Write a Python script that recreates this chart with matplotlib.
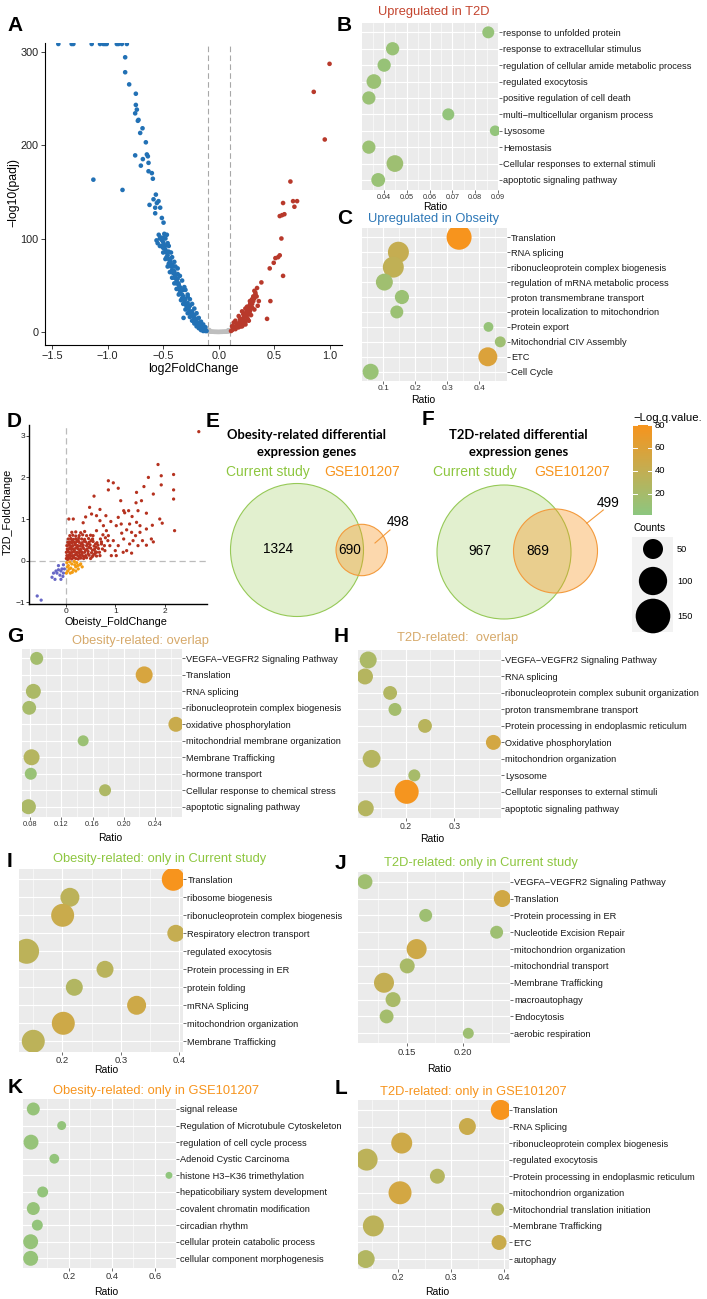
import numpy as np
import matplotlib
matplotlib.use("Agg")
import matplotlib.pyplot as plt
from matplotlib.colors import LinearSegmentedColormap, Normalize
from matplotlib.patches import Circle, Rectangle

plt.rcParams['font.family'] = ['Liberation Sans', 'DejaVu Sans']

# ======================= DATA =======================
# ---- Panel A: volcano (log2FoldChange, -log10(padj)) ----
PADJ_CAP = 308.25
volcano_cap_x = [-1.443, -1.323, -1.308, -1.143, -1.068, -1.038, -1.023, -1.008,
                 -0.917, -0.902, -0.872, -0.827]
volcano_down = [(-0.842, 294), (-0.842, 278), (-0.806, 265), (-0.746, 255), (-0.746, 243),
                (-0.737, 238), (-0.752, 234), (-0.722, 227), (-0.728, 226), (-0.707, 213),
                (-0.686, 218), (-0.656, 203), (-0.647, 190), (-0.638, 188), (-0.632, 181),
                (-0.752, 189), (-0.683, 185), (-0.701, 178), (-0.632, 172), (-0.602, 170),
                (-0.593, 164), (-1.128, 163), (-0.866, 152), (-0.566, 147), (-0.587, 142),
                (-0.557, 138), (-0.542, 140), (-0.623, 136), (-0.572, 133), (-0.527, 133),
                (-0.572, 127), (-0.512, 122), (-0.497, 117), (-0.467, 104), (-0.497, 101),
                (-0.482, 92), (-0.452, 86), (-0.437, 77), (-0.407, 70), (-0.392, 61),
                (-0.362, 52), (-0.332, 45), (-0.317, 35), (-0.287, 27), (-0.242, 20),
                (-0.212, 13), (-0.152, 6), (-0.317, 15),
                (-0.54, 104), (-0.53, 100), (-0.52, 101), (-0.51, 98), (-0.50, 96), (-0.50, 90),
                (-0.49, 93), (-0.48, 88), (-0.47, 85), (-0.47, 80), (-0.46, 82), (-0.45, 78),
                (-0.45, 73), (-0.44, 75), (-0.43, 70), (-0.42, 72), (-0.42, 66), (-0.41, 63),
                (-0.40, 65), (-0.40, 58), (-0.39, 60), (-0.38, 55), (-0.38, 52), (-0.37, 57),
                (-0.36, 50), (-0.36, 46), (-0.35, 48), (-0.35, 42), (-0.34, 44), (-0.33, 40),
                (-0.33, 36), (-0.32, 38), (-0.31, 34), (-0.30, 30), (-0.30, 35), (-0.29, 28),
                (-0.28, 31), (-0.28, 25), (-0.27, 26), (-0.26, 22), (-0.26, 28), (-0.25, 20),
                (-0.24, 18), (-0.24, 22), (-0.23, 16), (-0.22, 14), (-0.22, 18), (-0.21, 12),
                (-0.20, 10), (-0.20, 14), (-0.19, 8), (-0.18, 7), (-0.18, 10), (-0.17, 5),
                (-0.16, 4), (-0.16, 7), (-0.15, 3), (-0.14, 2), (-0.13, 2), (-0.12, 1),
                (-0.11, 1), (-0.43, 85), (-0.39, 70), (-0.37, 62), (-0.32, 45), (-0.31, 48),
                (-0.28, 38), (-0.53, 92), (-0.49, 105), (-0.46, 95),
                (-0.56, 98), (-0.55, 95), (-0.52, 92), (-0.50, 85), (-0.48, 78), (-0.46, 70),
                (-0.44, 64), (-0.42, 58), (-0.40, 52), (-0.38, 46), (-0.36, 40), (-0.34, 34),
                (-0.32, 30), (-0.30, 24), (-0.28, 20), (-0.26, 16), (-0.24, 12), (-0.22, 9),
                (-0.20, 6), (-0.18, 4), (-0.16, 2), (-0.14, 1), (-0.48, 100), (-0.45, 92),
                (-0.42, 80), (-0.40, 75), (-0.37, 68), (-0.35, 60), (-0.33, 55), (-0.30, 45),
                (-0.28, 40), (-0.26, 35), (-0.24, 30), (-0.22, 25), (-0.20, 20), (-0.18, 15),
                (-0.16, 11), (-0.14, 8), (-0.12, 5)]
volcano_up = [(0.996, 287), (0.854, 257), (0.953, 206), (0.644, 161), (0.578, 138),
              (0.668, 140), (0.704, 140), (0.680, 134), (0.548, 124), (0.569, 125),
              (0.590, 126), (0.563, 100), (0.548, 82), (0.533, 80), (0.509, 79),
              (0.494, 74), (0.458, 68), (0.578, 60), (0.383, 53), (0.344, 47),
              (0.329, 42), (0.314, 36), (0.299, 35), (0.464, 33), (0.284, 31),
              (0.254, 27), (0.239, 25), (0.209, 22), (0.179, 17), (0.434, 14),
              (0.149, 12), (0.134, 10), (0.119, 6),
              (0.11, 1), (0.12, 2), (0.13, 3), (0.14, 4), (0.15, 5), (0.16, 6), (0.17, 8),
              (0.17, 5), (0.18, 9), (0.19, 7), (0.19, 11), (0.20, 10), (0.21, 13), (0.21, 9),
              (0.22, 15), (0.23, 12), (0.23, 18), (0.24, 20), (0.25, 16), (0.25, 22),
              (0.26, 24), (0.27, 19), (0.27, 27), (0.28, 22), (0.28, 29), (0.29, 25),
              (0.30, 30), (0.31, 33), (0.31, 38), (0.32, 36), (0.33, 40), (0.30, 26),
              (0.26, 14), (0.24, 11), (0.22, 8), (0.20, 6), (0.32, 44), (0.34, 38), (0.36, 33),
              (0.15, 3), (0.18, 5), (0.21, 6), (0.24, 8), (0.27, 12), (0.29, 18), (0.32, 24),
              (0.35, 28), (0.13, 6), (0.16, 9), (0.19, 14), (0.22, 19), (0.25, 25), (0.28, 33)]
volcano_ns = [(-0.10, 1.0), (-0.09, 0.6), (-0.08, 0.5), (-0.07, 0.3), (-0.06, 0.3), (-0.05, 0.2),
              (-0.04, 0.1), (-0.03, 0.1), (-0.02, 0.05), (-0.01, 0.0), (0.0, 0.0), (0.01, 0.05),
              (0.02, 0.1), (0.03, 0.1), (0.04, 0.2), (0.05, 0.2), (0.06, 0.3), (0.07, 0.4),
              (0.08, 0.5), (0.09, 0.7), (0.10, 1.0), (-0.095, 1.5), (0.095, 1.4), (-0.085, 2.0),
              (0.085, 1.8)]
volcano_xticks = [-1.5, -1.0, -0.5, 0.0, 0.5, 1.0]
volcano_yticks = [0, 100, 200, 300]
fc_cutoff = 0.1

# ---- Panel D: Obesity vs T2D fold change ----
scatter_both_up = [(2.69, 3.10), (1.865, 2.31), (1.93, 2.04), (2.18, 2.07), (1.67, 2.00), (2.18, 1.70),
                   (2.18, 1.48), (2.20, 0.72), (1.93, 1.82), (1.77, 1.60), (1.58, 1.78), (1.43, 1.64),
                   (1.42, 1.39), (1.53, 1.44), (0.86, 1.70), (0.57, 1.55), (0.96, 1.87), (1.06, 1.74),
                   (0.86, 1.92), (1.11, 1.44), (1.17, 1.20), (1.19, 1.15), (1.27, 1.20), (1.34, 1.06),
                   (1.46, 1.20), (1.63, 1.14), (1.90, 1.00), (1.95, 0.90), (1.75, 0.85), (1.63, 0.76),
                   (1.50, 0.68), (1.73, 0.52), (1.77, 0.45), (1.63, 0.37), (1.55, 0.48), (1.41, 0.60),
                   (1.33, 0.68), (1.23, 0.74), (1.13, 0.66), (1.00, 0.24), (1.16, 0.20), (1.23, 0.24),
                   (1.33, 0.18), (1.06, 0.36), (0.96, 0.48), (0.86, 0.60), (0.76, 0.84), (0.69, 0.96),
                   (0.62, 1.08), (0.52, 1.12), (0.40, 1.05), (0.35, 0.91), (0.48, 1.28), (0.15, 1.00),
                   (0.06, 1.00), (0.69, 1.23), (0.81, 1.08), (1.06, 1.04), (0.91, 0.94), (1.02, 0.84),
                   (1.12, 0.88), (1.29, 0.88), (1.43, 0.92), (1.50, 0.84), (1.36, 0.48), (1.46, 0.36),
                   (1.17, 0.52), (1.29, 0.40), (0.89, 0.36), (0.79, 0.24), (0.92, 0.12), (1.02, 0.12),
                   (0.69, 0.12), (0.62, 0.20), (0.72, 0.40), (0.82, 0.72), (0.62, 0.72), (0.55, 0.60),
                   (0.01, 0.05), (0.04, 0.03), (0.08, 0.06), (0.12, 0.04), (0.16, 0.07), (0.20, 0.05),
                   (0.25, 0.04), (0.30, 0.06), (0.36, 0.05), (0.42, 0.07), (0.50, 0.05),
                   (0.02, 0.12), (0.06, 0.13), (0.10, 0.11), (0.14, 0.12), (0.19, 0.14), (0.24, 0.12),
                   (0.29, 0.13), (0.34, 0.11), (0.40, 0.12), (0.47, 0.13), (0.55, 0.12), (0.62, 0.11),
                   (0.01, 0.20), (0.05, 0.21), (0.09, 0.19), (0.13, 0.20), (0.17, 0.22), (0.22, 0.20),
                   (0.27, 0.19), (0.32, 0.21), (0.38, 0.20), (0.45, 0.22), (0.52, 0.19), (0.60, 0.21),
                   (0.68, 0.20), (0.03, 0.28), (0.07, 0.29), (0.11, 0.27), (0.15, 0.28), (0.20, 0.30),
                   (0.25, 0.28), (0.30, 0.27), (0.36, 0.29), (0.43, 0.28), (0.50, 0.30), (0.58, 0.27),
                   (0.66, 0.29), (0.74, 0.28), (0.02, 0.36), (0.06, 0.37), (0.10, 0.35), (0.14, 0.36),
                   (0.19, 0.38), (0.24, 0.36), (0.29, 0.35), (0.35, 0.37), (0.42, 0.36), (0.49, 0.38),
                   (0.57, 0.35), (0.65, 0.37), (0.04, 0.44), (0.08, 0.45), (0.12, 0.43), (0.17, 0.44),
                   (0.22, 0.46), (0.27, 0.44), (0.33, 0.43), (0.40, 0.45), (0.47, 0.44), (0.55, 0.46),
                   (0.63, 0.43), (0.72, 0.45), (0.05, 0.52), (0.10, 0.53), (0.15, 0.51), (0.20, 0.52),
                   (0.26, 0.54), (0.32, 0.52), (0.38, 0.51), (0.46, 0.53), (0.54, 0.52), (0.08, 0.60),
                   (0.14, 0.61), (0.20, 0.59), (0.27, 0.60), (0.34, 0.62), (0.42, 0.60), (0.50, 0.61),
                   (0.12, 0.68), (0.20, 0.69), (0.30, 0.67), (0.38, 0.70), (0.75, 0.62), (0.80, 0.55),
                   (0.85, 0.48), (0.78, 0.36), (0.70, 0.52),
                   (0.04, 0.08), (0.09, 0.16), (0.15, 0.09), (0.21, 0.16), (0.27, 0.09), (0.33, 0.17),
                   (0.39, 0.09), (0.45, 0.16), (0.53, 0.09), (0.58, 0.16), (0.04, 0.24), (0.11, 0.32),
                   (0.17, 0.25), (0.23, 0.33), (0.28, 0.24), (0.34, 0.33), (0.40, 0.25), (0.47, 0.32),
                   (0.54, 0.25), (0.61, 0.32), (0.07, 0.40), (0.13, 0.48), (0.19, 0.41), (0.25, 0.49),
                   (0.31, 0.40), (0.37, 0.47), (0.44, 0.40), (0.51, 0.48), (0.60, 0.40)]
scatter_obesity_only = [(0.02, -0.05), (0.05, -0.12), (0.08, -0.03), (0.10, -0.18), (0.12, -0.08),
                        (0.15, -0.22), (0.18, -0.10), (0.20, -0.15), (0.22, -0.05), (0.25, -0.20),
                        (0.28, -0.10), (0.30, -0.08), (0.33, -0.15), (0.04, -0.25), (0.07, -0.20),
                        (0.13, -0.28), (0.17, -0.02), (0.24, -0.12), (0.01, -0.30), (0.03, -0.15),
                        (0.09, -0.30), (0.20, -0.25)]
scatter_both_down = [(-0.05, -0.10), (-0.08, -0.20), (-0.10, -0.25), (-0.15, -0.22), (-0.18, -0.30),
                     (-0.12, -0.35), (-0.05, -0.30), (-0.20, -0.25), (-0.25, -0.30), (-0.28, -0.40),
                     (-0.22, -0.45), (-0.10, -0.45), (-0.06, -0.38), (-0.15, -0.12), (-0.03, -0.20),
                     (-0.58, -0.85), (-0.50, -0.95)]

# ---- Panels E/F: Venn counts (only current, overlap, only GSE101207) ----
venn_obesity = [1324, 690, 498]
venn_t2d = [967, 869, 499]
venn_sets = ["Current study", "GSE101207"]

# ---- Bubble panels: terms, ratio, counts, -log q ----
B_terms = ["response to unfolded protein", "response to extracellular stimulus",
           "regulation of cellular amide metabolic process", "regulated exocytosis",
           "positive regulation of cell death", "multi\u2212multicellular organism process",
           "Lysosome", "Hemostasis", "Cellular responses to external stimuli",
           "apoptotic signaling pathway"]
B_ratio = [0.0857, 0.0438, 0.0401, 0.0356, 0.0334, 0.0682, 0.0887, 0.0334, 0.0448, 0.0375]
B_counts = [18, 22, 22, 27, 22, 18, 14, 22, 35, 24]
B_logq = [8, 10, 9, 12, 11, 6, 6, 12, 14, 10]

C_terms = ["Translation", "RNA splicing", "ribonucleoprotein complex biogenesis",
           "regulation of mRNA metabolic process", "proton transmembrane transport",
           "protein localization to mitochondrion", "Protein export",
           "Mitochondrial CIV Assembly", "ETC", "Cell Cycle"]
C_ratio = [0.337, 0.147, 0.131, 0.103, 0.158, 0.142, 0.429, 0.466, 0.427, 0.060]
C_counts = [78, 55, 55, 36, 25, 21, 12, 15, 45, 32]
C_logq = [80, 42, 38, 15, 12, 12, 8, 14, 58, 10]

G_terms = ["VEGFA\u2212VEGFR2 Signaling Pathway", "Translation", "RNA splicing",
           "ribonucleoprotein complex biogenesis", "oxidative phosphorylation",
           "mitochondrial membrane organization", "Membrane Trafficking", "hormone transport",
           "Cellular response to chemical stress", "apoptotic signaling pathway"]
G_ratio = [0.0886, 0.226, 0.0843, 0.079, 0.2666, 0.148, 0.082, 0.081, 0.176, 0.078]
G_counts = [21, 36, 28, 24, 28, 15, 32, 18, 18, 28]
G_logq = [18, 55, 24, 20, 45, 12, 30, 10, 25, 24]

H_terms = ["VEGFA\u2212VEGFR2 Signaling Pathway", "RNA splicing",
           "ribonucleoprotein complex subunit organization", "proton transmembrane transport",
           "Protein processing in endoplasmic reticulum", "Oxidative phosphorylation",
           "mitochondrion organization", "Lysosome", "Cellular responses to external stimuli",
           "apoptotic signaling pathway"]
H_ratio = [0.123, 0.1164, 0.168, 0.178, 0.2396, 0.380, 0.130, 0.2177, 0.202, 0.118]
H_counts = [36, 32, 24, 21, 24, 28, 40, 18, 72, 32]
H_logq = [24, 30, 28, 18, 32, 52, 30, 20, 78, 30]

I_terms = ["Translation", "ribosome biogenesis", "ribonucleoprotein complex biogenesis",
           "Respiratory electron transport", "regulated exocytosis", "Protein processing in ER",
           "protein folding", "mRNA Splicing", "mitochondrion organization", "Membrane Trafficking"]
I_ratio = [0.3897, 0.213, 0.2006, 0.394, 0.139, 0.273, 0.2205, 0.327, 0.2017, 0.1504]
I_counts = [66, 45, 66, 36, 78, 36, 36, 45, 66, 66]
I_logq = [80, 35, 45, 42, 35, 33, 28, 48, 48, 35]

J_terms = ["VEGFA\u2212VEGFR2 Signaling Pathway", "Translation", "Protein processing in ER",
           "Nucleotide Excision Repair", "mitochondrion organization", "mitochondrial transport",
           "Membrane Trafficking", "macroautophagy", "Endocytosis", "aerobic respiration"]
J_ratio = [0.1132, 0.2344, 0.1668, 0.2294, 0.1588, 0.1505, 0.130, 0.138, 0.1323, 0.2044]
J_counts = [28, 36, 21, 21, 50, 28, 50, 28, 24, 15]
J_logq = [15, 50, 14, 14, 48, 22, 40, 22, 18, 14]

K_terms = ["signal release", "Regulation of Microtubule Cytoskeleton",
           "regulation of cell cycle process", "Adenoid Cystic Carcinoma",
           "histone H3\u2212K36 trimethylation", "hepaticobiliary system development",
           "covalent chromatin modification", "circadian rhythm",
           "cellular protein catabolic process", "cellular component morphogenesis"]
K_ratio = [0.034, 0.166, 0.0233, 0.1317, 0.665, 0.0776, 0.034, 0.0527, 0.0217, 0.0217]
K_counts = [21, 10, 28, 12, 6, 15, 21, 15, 28, 28]
K_logq = [8, 6, 8, 6, 4, 6, 8, 6, 8, 8]

L_terms = ["Translation", "RNA Splicing", "ribonucleoprotein complex biogenesis",
           "regulated exocytosis", "Protein processing in endoplasmic reticulum",
           "mitochondrion organization", "Mitochondrial translation initiation",
           "Membrane Trafficking", "ETC", "autophagy"]
L_ratio = [0.394, 0.3307, 0.2064, 0.140, 0.2739, 0.2032, 0.388, 0.1527, 0.3907, 0.1383]
L_counts = [50, 36, 55, 60, 28, 66, 21, 55, 28, 40]
L_logq = [80, 45, 48, 35, 30, 52, 30, 35, 45, 28]

legend_q_ticks = [20, 40, 60, 80]
legend_counts = [50, 100, 150]

# ======================= STYLE / LAYOUT =======================
W, H = 707, 1299
fig = plt.figure(figsize=(W / 100, H / 100), dpi=100)
fig.patch.set_facecolor('white')

ov = fig.add_axes([0, 0, 1, 1], zorder=10)
ov.set_xlim(0, W)
ov.set_ylim(H, 0)
ov.axis('off')
ov.patch.set_alpha(0)

def px_axes(x0, y0, x1, y1):
    return fig.add_axes([x0 / W, 1 - y1 / H, (x1 - x0) / W, (y1 - y0) / H])

Q_MIN, Q_MAX = 1.6, 80
cmap = LinearSegmentedColormap.from_list('q', ['#8DC780', '#C4AE52', '#F7941D'])
norm = Normalize(Q_MIN, Q_MAX)

def bubble_size(count):
    return 4.147 * count

BLUE = '#2271B5'
RED = '#B8392B'
GREEN_T = '#8DC63F'
ORANGE_T = '#F7941D'
TAN_T = '#D6A96A'

# ---------------- Panel A ----------------
axA = px_axes(45, 43, 342, 345)
nx, ny = zip(*volcano_ns)
dx, dy = zip(*volcano_down)
ux, uy = zip(*volcano_up)
axA.scatter(nx, ny, s=11, c='#BEBEBE', edgecolors='none', zorder=2)
axA.scatter(dx, dy, s=11, c=BLUE, edgecolors='none', zorder=3)
axA.scatter(volcano_cap_x, [PADJ_CAP] * len(volcano_cap_x), s=11, c=BLUE, edgecolors='none', zorder=3)
axA.scatter(ux, uy, s=11, c=RED, edgecolors='none', zorder=3)
for v in (-fc_cutoff, fc_cutoff):
    axA.axvline(v, color='#A8A8A8', lw=0.8, ls=(0, (5, 3)), zorder=1)
axA.set_xlim(-1.563, 1.108)
axA.set_ylim(-14, 309.3)
for s in ('top', 'right'):
    axA.spines[s].set_visible(False)
for s in ('left', 'bottom'):
    axA.spines[s].set_linewidth(0.8)
axA.set_xticks(volcano_xticks)
axA.set_xticklabels([f"{t:.1f}".replace('-', '\u2212') for t in volcano_xticks])
axA.set_yticks(volcano_yticks)
axA.tick_params(labelsize=7.8, length=3, width=0.6, colors='#222222', pad=1.5)
ov.text(13, 192, '\u2212log10(padj)', rotation=90, fontsize=8.8, ha='center', va='center')
ov.text(193, 369, 'log2FoldChange', fontsize=8.8, ha='center', va='center')

# ---------------- Panel D ----------------
axD = px_axes(29.3, 425, 206.7, 604.3)
bx, by = zip(*scatter_both_up)
ox, oy = zip(*scatter_obesity_only)
px_, py_ = zip(*scatter_both_down)
axD.scatter(bx, by, s=5.5, c='#B5321F', edgecolors='none', zorder=3)
axD.scatter(ox, oy, s=5.5, c='#F39C12', edgecolors='none', zorder=3)
axD.scatter(px_, py_, s=5.5, c='#6767C6', edgecolors='none', zorder=3)
axD.axvline(0, color='#BBBBBB', lw=0.9, ls=(0, (5, 3)), zorder=1)
axD.axhline(0, color='#BBBBBB', lw=0.9, ls=(0, (5, 3)), zorder=1)
axD.set_xlim(-0.74, 2.85)
axD.set_ylim(-1.05, 3.26)
for s in ('top', 'right'):
    axD.spines[s].set_visible(False)
for s in ('left', 'bottom'):
    axD.spines[s].set_linewidth(1.0)
axD.set_xticks([0, 1, 2])
axD.set_yticks([-1, 0, 1, 2, 3])
axD.set_yticklabels(['\u22121', '0', '1', '2', '3'])
axD.tick_params(labelsize=6, length=2, width=0.6, colors='#222222', pad=1)
ov.text(8, 512, 'T2D_FoldChange', rotation=90, fontsize=7.8, ha='center', va='center')
ov.text(116, 622, 'Obeisty_FoldChange', fontsize=7.8, ha='center', va='center')

# ---------------- Venn E / F ----------------
g_fc = (0.55, 0.78, 0.25, 0.25)
o_fc = (0.97, 0.58, 0.11, 0.36)

def venn(title, cg, rg, co, ro, counts, title_x, label_xy, num_xy, leader):
    ov.add_patch(Circle(cg, rg, facecolor=g_fc, edgecolor='#96C957', lw=0.8))
    ov.add_patch(Circle(co, ro, facecolor=o_fc, edgecolor='#F39A3C', lw=0.8))
    ov.text(title_x, 435, title, fontsize=9.4, fontweight='bold', family='Lato',
            ha='center', va='center')
    ov.text(title_x, 452, 'expression genes', fontsize=9.4, fontweight='bold', family='Lato',
            ha='center', va='center')
    ov.text(label_xy[0][0], label_xy[0][1], venn_sets[0], color=GREEN_T, fontsize=10,
            ha='center', va='center')
    ov.text(label_xy[1][0], label_xy[1][1], venn_sets[1], color=ORANGE_T, fontsize=10,
            ha='center', va='center')
    for (x, y), c in zip(num_xy, counts):
        ov.text(x, y, str(c), fontsize=9.8, ha='center', va='center')
    ov.plot([leader[0][0], leader[1][0]], [leader[0][1], leader[1][1]], color='#F39A3C', lw=0.8)

venn('Obesity-related differential', (297, 550), 66.5, (361.7, 550), 25.7, venn_obesity, 306.7,
     [(268, 472), (362, 472)], [(278.3, 549.3), (350, 550), (398.3, 521.7)],
     [(375, 543), (390, 530)])
venn('T2D-related differential', (504, 552), 67, (555.5, 551), 42, venn_t2d, 518.3,
     [(475, 472), (571.7, 472)], [(480, 550.7), (538.3, 550.7), (608.3, 502.7)],
     [(586.7, 523.3), (603.3, 510)])

# ---------------- Legend ----------------
ov.text(633, 418, '\u2212Log.q.value.', fontsize=8.2, ha='left', va='center')
axCB = px_axes(633.3, 425, 651.7, 515)
grad = np.linspace(Q_MAX, Q_MIN, 256)[:, None]
axCB.imshow(grad, aspect='auto', cmap=cmap, norm=norm, extent=[0, 1, Q_MIN, Q_MAX])
axCB.set_xlim(0, 1)
axCB.set_ylim(Q_MIN, Q_MAX)
axCB.axis('off')
for v in legend_q_ticks:
    axCB.plot([0, 0.2], [v, v], color='white', lw=0.7)
    axCB.plot([0.8, 1], [v, v], color='white', lw=0.7)
    axCB.text(1.15, v, str(v), transform=axCB.get_yaxis_transform(), fontsize=6.8,
              ha='left', va='center', clip_on=False)
ov.text(633, 528, 'Counts', fontsize=7.3, ha='left', va='center')
ov.add_patch(Rectangle((632, 537), 41, 95, facecolor='#F2F2F2', edgecolor='none'))
for yy, c in zip([549, 581, 616], legend_counts):
    ov.scatter([653], [yy], s=bubble_size(c), c='black', edgecolors='none')
    ov.text(677, yy, str(c), fontsize=6.6, ha='left', va='center')

# ---------------- Bubble panels ----------------
def bubble(rect, terms, ratio, counts, logq, xlim, xticks, xfmt, tick_fs,
           title, tcol, tpos, rpos):
    x0, y0, x1, y1 = rect
    ax = px_axes(x0, y0, x1, y1)
    n = len(terms)
    ys = np.arange(n)[::-1]
    ax.set_facecolor('#EBEBEB')
    ax.set_xlim(*xlim)
    ax.set_ylim(-0.6, n - 0.4)
    step = xticks[1] - xticks[0]
    minors = [xticks[0] - step / 2] + [t + step / 2 for t in xticks]
    for m in minors:
        ax.axvline(m, color='white', lw=0.4, zorder=0.5)
    for t in xticks:
        ax.axvline(t, color='white', lw=0.85, zorder=0.6)
    for y in ys:
        ax.axhline(y, color='white', lw=0.85, zorder=0.6)
    ax.scatter(ratio, ys, s=[bubble_size(c) for c in counts], c=logq, cmap=cmap, norm=norm,
               edgecolors='none', zorder=3)
    for sp in ax.spines.values():
        sp.set_visible(False)
    ax.set_yticks(ys)
    ax.set_yticklabels(terms, fontsize=6.7, color='#1A1A1A')
    ax.yaxis.tick_right()
    ax.set_xticks(xticks)
    ax.set_xticklabels([xfmt.format(t) for t in xticks], fontsize=tick_fs, color='#333333')
    ax.tick_params(axis='both', length=2, width=0.5, color='#333333', pad=1)
    ov.text(tpos[0], tpos[1], title, color=tcol, fontsize=9.3, ha='center', va='center')
    ov.text(rpos[0], rpos[1], 'Ratio', fontsize=7.5, ha='center', va='center')
    return ax

bubble((362, 22.5, 499, 189.8), B_terms, B_ratio, B_counts, B_logq, (0.0304, 0.0904),
       [0.04, 0.05, 0.06, 0.07, 0.08, 0.09], '{:.2f}', 5.2,
       'Upregulated in T2D', '#C4452F', (434, 12), (435, 207))
bubble((362, 228.3, 507, 380.7), C_terms, C_ratio, C_counts, C_logq, (0.033, 0.487),
       [0.1, 0.2, 0.3, 0.4], '{:.1f}', 6, 'Upregulated in Obseity', '#2E78B7', (434, 219), (423, 400))
bubble((21.7, 648.5, 181.7, 816.6), G_terms, G_ratio, G_counts, G_logq, (0.0694, 0.274),
       [0.08, 0.12, 0.16, 0.20, 0.24], '{:.2f}', 5.4, 'Obesity-related: overlap', TAN_T,
       (140, 641), (110, 838))
bubble((358.3, 650.1, 500.7, 818.2), H_terms, H_ratio, H_counts, H_logq, (0.1027, 0.395),
       [0.2, 0.3], '{:.1f}', 6.2, 'T2D-related:  overlap', TAN_T, (458, 638.3), (432, 839.3))
bubble((19.3, 868.5, 183.3, 1052.1), I_terms, I_ratio, I_counts, I_logq, (0.1265, 0.4068),
       [0.2, 0.3, 0.4], '{:.1f}', 6.8, 'Obesity-related: only in Current study', GREEN_T,
       (160, 859), (106, 1070))
bubble((357.7, 871.6, 510, 1043.4), J_terms, J_ratio, J_counts, J_logq, (0.1068, 0.2412),
       [0.15, 0.20], '{:.2f}', 6.8, 'T2D-related: only in Current study', GREEN_T,
       (481, 862.7), (439, 1069.3))
bubble((22.7, 1099, 176, 1268.3), K_terms, K_ratio, K_counts, K_logq, (-0.0153, 0.6977),
       [0.2, 0.4, 0.6], '{:.1f}', 6.8, 'Obesity-related: only in GSE101207', ORANGE_T,
       (156, 1090.7), (106, 1291.7))
bubble((358.3, 1100, 509, 1269), L_terms, L_ratio, L_counts, L_logq, (0.1242, 0.4095),
       [0.2, 0.3, 0.4], '{:.1f}', 6.5, 'T2D-related: only in GSE101207', ORANGE_T,
       (473, 1091.7), (437, 1291.7))

# ---------------- Panel letters ----------------
letters = {'A': (15, 25.5), 'B': (344.5, 25.5), 'C': (344.5, 218.5), 'D': (14, 421.5),
           'E': (213, 421.5), 'F': (428, 419), 'G': (15, 636.5), 'H': (341.5, 636.5),
           'I': (9, 861.5), 'J': (340, 863.5), 'K': (15, 1087.5), 'L': (341.5, 1088)}
for k, (x, y) in letters.items():
    ov.text(x, y, k, fontsize=15, fontweight='bold', ha='center', va='center')

fig.savefig('out.png', dpi=100, facecolor='white')
